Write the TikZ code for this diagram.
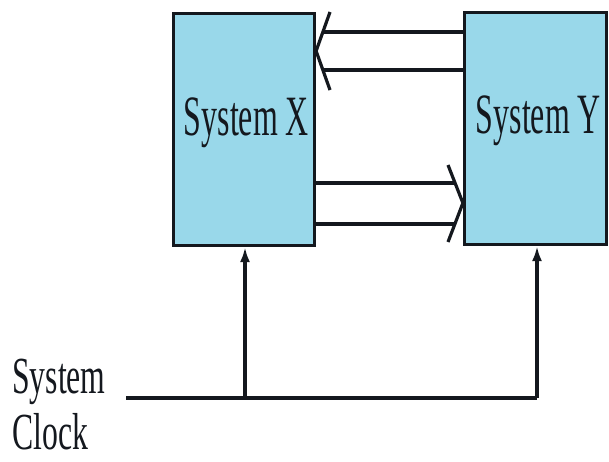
\documentclass[tikz,border=0pt]{standalone}
\usepackage{fontspec}
\setmainfont{Liberation Serif}
\newfontfamily\boxfont[FakeStretch=0.56]{Liberation Serif}
\newfontfamily\clkfont[FakeStretch=0.61]{Liberation Serif}
\usetikzlibrary{arrows.meta}
\definecolor{sysblue}{RGB}{153,216,234}
\definecolor{ink}{RGB}{20,24,30}
\begin{document}
\begin{tikzpicture}[x=1pt,y=-1pt,
  sysbox/.style={draw=ink,fill=sysblue,line width=3.2pt,inner sep=0pt},
  boxtext/.style={inner sep=0pt,anchor=base,text=ink,font=\boxfont\fontsize{57}{60}\selectfont},
  wire/.style={draw=ink,line width=3.2pt},
  bus/.style={draw=ink,line width=3.2pt,line join=miter},
  clk/.style={wire,-{Latex[length=15pt,width=10pt]}}]
\useasboundingbox (0,0) rectangle (609,461);
\node[sysbox,minimum width=141pt,minimum height=232pt] (bX) at (244,129.5) {};
\node[sysbox,minimum width=142pt,minimum height=232pt] (bY) at (535.5,128.5) {};
\node[boxtext] (tX) at (246.5,135) {System X};
\node[boxtext] (tY) at (538.5,133) {System Y};
% bus Y -> X
\coordinate (a1) at (bY.west |- 0,32);
\coordinate (a2) at (bY.west |- 0,70);
\draw[bus] (a1) -- (322.3,32);
\draw[bus] (a2) -- (322.3,70);
\draw[bus] (330,12) -- (bX.east |- 0,51) -- (330,90);
% bus X -> Y
\coordinate (b1) at (bX.east |- 0,183);
\coordinate (b2) at (bX.east |- 0,224);
\draw[bus] (b1) -- (455,183);
\draw[bus] (b2) -- (455,224);
\draw[bus] (448,165) -- (bY.west |- 0,203) -- (448,242);
% clock
\node[inner sep=0pt,anchor=base west,align=left,text=ink,text depth=0pt,
  font=\clkfont\fontsize{52}{56}\selectfont] (clk) at (12,449) {System\\Clock};
\coordinate (c0) at (126,398);
\coordinate (c1) at (245,398);
\coordinate (c2) at (537,398);
\draw[wire] (c0) -- (c2);
\draw[clk] (c1) -- (c1 |- bX.south);
\draw[clk] (c2) -- (c2 |- bY.south);
\end{tikzpicture}
\end{document}
